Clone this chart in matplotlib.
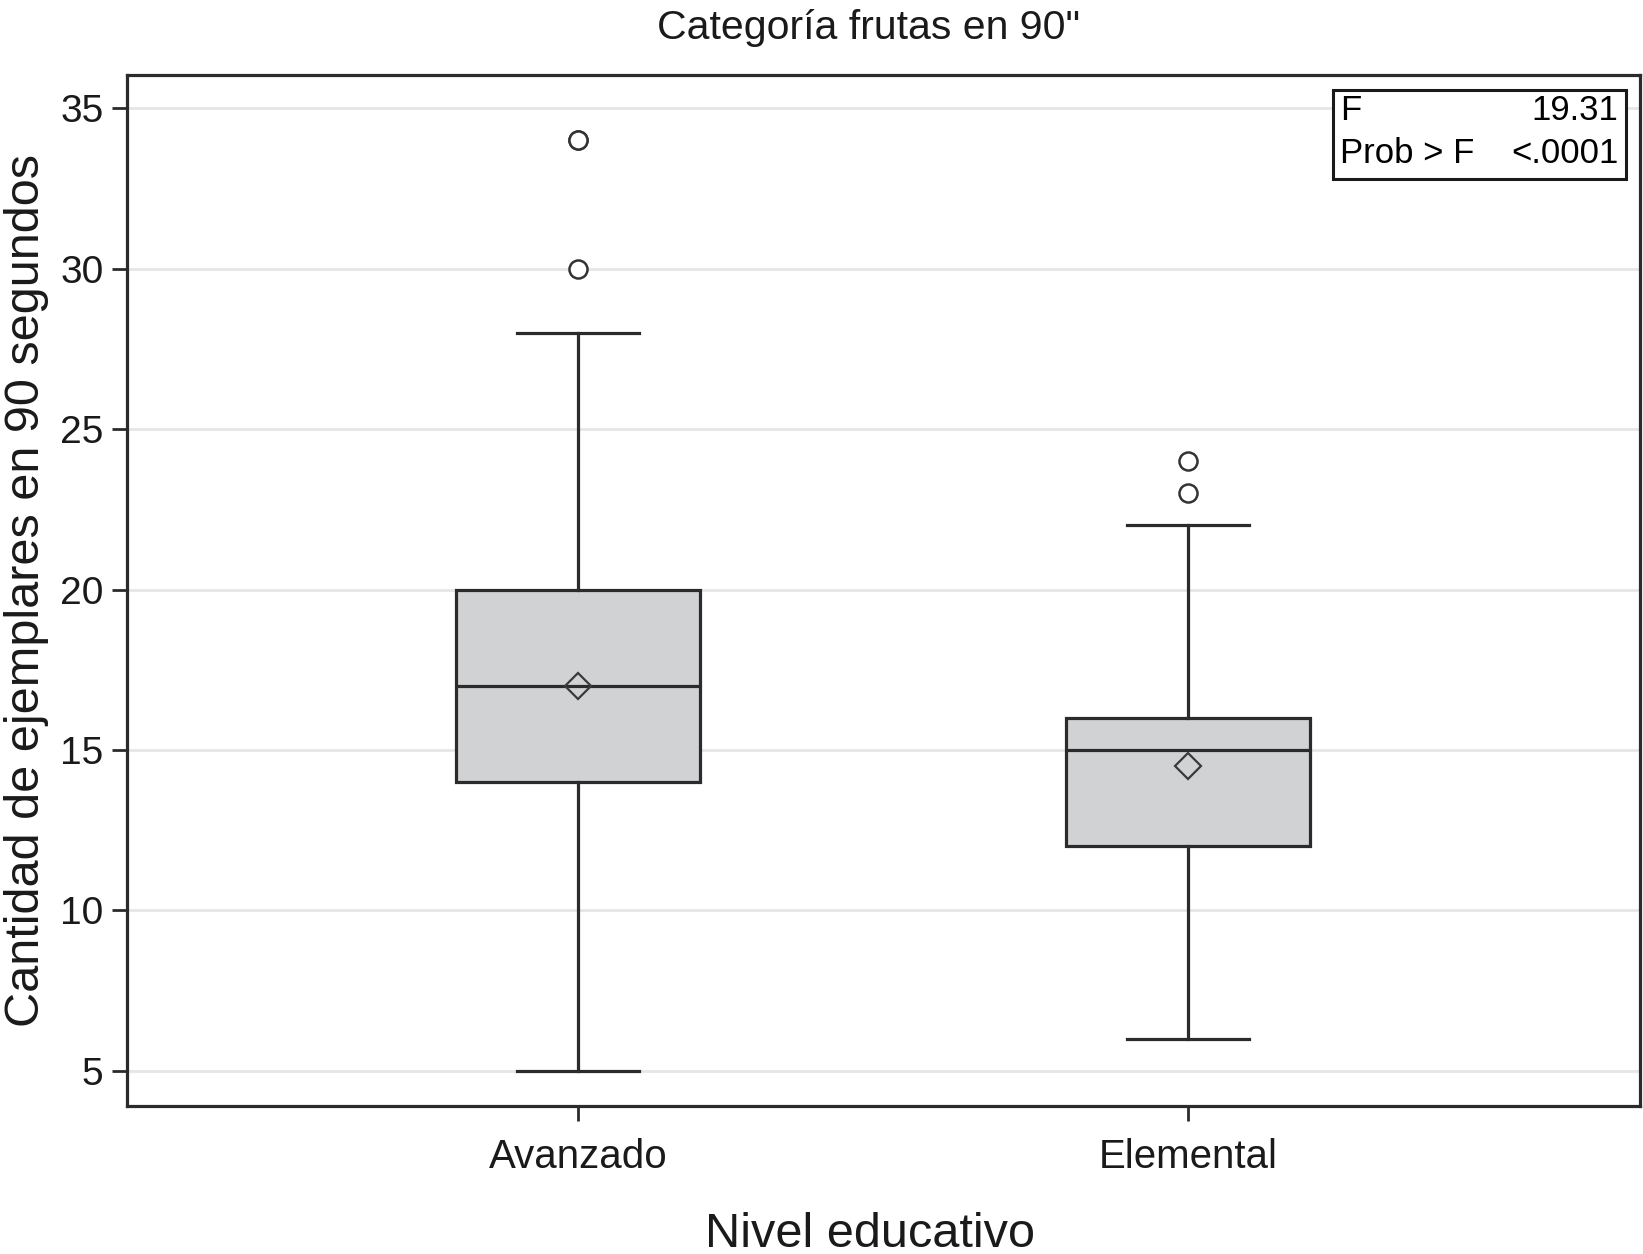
import numpy as np
import matplotlib.pyplot as plt
from matplotlib.patches import Rectangle

# datos
niveles = ["Avanzado", "Elemental"]
q1 = [14, 12]
mediana = [17, 15]
q3 = [20, 16]
bigote_inf = [5, 6]
bigote_sup = [28, 22]
media = [17, 14.5]
atipicos = [[30, 34, 34], [23, 24]]
y_ticks = [5, 10, 15, 20, 25, 30, 35]
f_valor = "19.31"
prob_f = "<.0001"

plt.rcParams['font.family'] = ['Liberation Sans', 'DejaVu Sans']

fig = plt.figure(figsize=(16.43, 12.54), dpi=100)
ax = fig.add_axes([0.0773, 0.118, 0.9207, 0.822])

stats = []
for i in range(len(niveles)):
    stats.append(dict(label=niveles[i], q1=q1[i], med=mediana[i], q3=q3[i],
                      whislo=bigote_inf[i], whishi=bigote_sup[i],
                      mean=media[i], fliers=atipicos[i]))

posiciones = np.arange(len(niveles))
ax.bxp(stats, positions=posiciones, widths=0.4, showmeans=True, patch_artist=True,
       boxprops=dict(facecolor="#d1d2d4", edgecolor="#2b2b2b", linewidth=2.3),
       medianprops=dict(color="#2b2b2b", linewidth=2.3),
       whiskerprops=dict(color="#2b2b2b", linewidth=2.3),
       capprops=dict(color="#2b2b2b", linewidth=2.3),
       capwidths=0.2,
       meanprops=dict(marker="D", markerfacecolor="none", markeredgecolor="#3a3a3a",
                      markersize=13, markeredgewidth=1.6),
       flierprops=dict(marker="o", markerfacecolor="white", markeredgecolor="#333333",
                       markersize=13, markeredgewidth=1.8))

ax.set_xlim(-0.74, 1.74)
ax.set_ylim(3.9, 36.03)
ax.set_yticks(y_ticks)
ax.set_xticks(posiciones)
ax.set_xticklabels(niveles)
ax.yaxis.grid(True, color="#e6e6e6", linewidth=2)
ax.set_axisbelow(True)

for s in ax.spines.values():
    s.set_linewidth(2.3)
    s.set_color("#2b2b2b")
ax.tick_params(axis="both", direction="out", length=11, width=2, color="#2b2b2b",
               labelsize=28, labelcolor="#1a1a1a", pad=6)
ax.tick_params(axis="x", pad=12, labelsize=29)

ax.set_xlabel("Nivel educativo", fontsize=35, color="#1a1a1a", labelpad=26)
ax.xaxis.label.set_x(0.491)
ax.set_ylabel("Cantidad de ejemplares en 90 segundos", fontsize=35, color="#1a1a1a", labelpad=8)
ax.set_title('Categoría frutas en 90"', fontsize=29.5, color="#1a1a1a", pad=26, x=0.49)

# caja con el resultado del ANOVA
ax.add_patch(Rectangle((0.797, 0.899), 0.194, 0.087, transform=ax.transAxes,
                       facecolor="white", edgecolor="#1a1a1a", linewidth=2.2, zorder=5))
ax.text(0.802, 0.966, "F", transform=ax.transAxes, fontsize=25, va="center", ha="left", zorder=6)
ax.text(0.986, 0.966, f_valor, transform=ax.transAxes, fontsize=25, va="center", ha="right", zorder=6)
ax.text(0.802, 0.924, "Prob > F", transform=ax.transAxes, fontsize=25, va="center", ha="left", zorder=6)
ax.text(0.986, 0.924, prob_f, transform=ax.transAxes, fontsize=25, va="center", ha="right", zorder=6)

plt.savefig("out.png", dpi=100)
